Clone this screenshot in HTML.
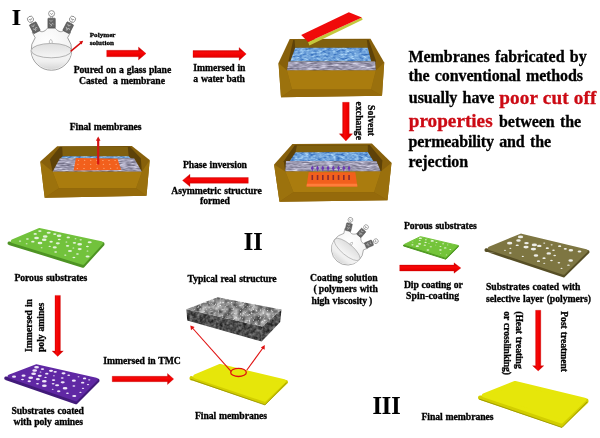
<!DOCTYPE html>
<html><head><meta charset="utf-8"><style>
html,body{margin:0;padding:0;background:#fff;}
svg{display:block;}
text{font-family:"Liberation Serif", serif;font-weight:bold;stroke-width:0.3px;paint-order:stroke;}
svg{will-change:transform;}
</style></head><body>
<svg width="600" height="438" viewBox="0 0 600 438">
<defs>
<radialGradient id="flaskg" cx="0.4" cy="0.35" r="0.7"><stop offset="0" stop-color="#ffffff"/><stop offset="1" stop-color="#f0f0f0"/></radialGradient>
<linearGradient id="liqg" x1="0" y1="0" x2="0" y2="1"><stop offset="0" stop-color="#f8f8f8"/><stop offset="0.7" stop-color="#f0f0f0"/><stop offset="1" stop-color="#d8d8d8"/></linearGradient>
<linearGradient id="surfg" x1="0" y1="0" x2="0" y2="1"><stop offset="0" stop-color="#dedede"/><stop offset="1" stop-color="#f6f6f6"/></linearGradient>
<linearGradient id="argh" x1="0" y1="0" x2="0" y2="1"><stop offset="0.2" stop-color="#d80000"/><stop offset="0.4" stop-color="#f80808"/><stop offset="0.6" stop-color="#f00000"/><stop offset="0.8" stop-color="#d80000"/></linearGradient>
<linearGradient id="argv" x1="0" y1="0" x2="1" y2="0"><stop offset="0.2" stop-color="#d80000"/><stop offset="0.4" stop-color="#f80808"/><stop offset="0.6" stop-color="#f00000"/><stop offset="0.8" stop-color="#d80000"/></linearGradient>
<filter id="water" x="0" y="0" width="1" height="1" color-interpolation-filters="sRGB">
<feTurbulence type="fractalNoise" baseFrequency="0.22 0.5" numOctaves="2" seed="4" result="n"/>
<feColorMatrix in="n" type="matrix" values="0.8 0 0 0 0.04  0.7 0 0 0 0.29  0.4 0 0 0 0.66  0 0 0 0 1" result="b"/>
<feColorMatrix in="n" type="matrix" values="0 0 0 0 0.7  0 0 0 0 0.85  0 0 0 0 0.98  6 0 0 0 -4.0" result="w"/>
<feComposite in="w" in2="b" operator="over" result="c"/>
<feComposite in="c" in2="SourceGraphic" operator="in"/>
</filter>
<filter id="stone" x="0" y="0" width="1" height="1" color-interpolation-filters="sRGB">
<feTurbulence type="fractalNoise" baseFrequency="0.15 0.6" numOctaves="2" seed="7" result="n"/>
<feColorMatrix in="n" type="matrix" values="0.7 0 0 0 0.27  0.7 0 0 0 0.26  0.7 0 0 0 0.35  0 0 0 0 1" result="c"/>
<feColorMatrix in="n" type="matrix" values="0 0 0 0 0.85  0 0 0 0 0.85  0 0 0 0 0.9  5 0 0 0 -3.3" result="w"/>
<feComposite in="w" in2="c" operator="over" result="c2"/>
<feComposite in="c2" in2="SourceGraphic" operator="in"/>
</filter>
<filter id="sem" x="0" y="0" width="1" height="1" color-interpolation-filters="sRGB">
<feTurbulence type="fractalNoise" baseFrequency="0.18" numOctaves="2" seed="2" result="n"/>
<feColorMatrix in="n" type="matrix" values="0.9 0 0 0 0.08  0.9 0 0 0 0.08  0.9 0 0 0 0.08  0 0 0 0 1" result="c"/>
<feTurbulence type="fractalNoise" baseFrequency="0.55" numOctaves="2" seed="9" result="n2"/>
<feColorMatrix in="n2" type="matrix" values="0 0 0 0 0.92  0 0 0 0 0.92  0 0 0 0 0.92  4 0 0 0 -2.3" result="sp"/>
<feComposite in="sp" in2="c" operator="over" result="c2"/>
<feComposite in="c2" in2="SourceGraphic" operator="in"/>
</filter>
<filter id="semd" x="0" y="0" width="1" height="1" color-interpolation-filters="sRGB">
<feTurbulence type="fractalNoise" baseFrequency="0.3" numOctaves="2" seed="5" result="n"/>
<feColorMatrix in="n" type="matrix" values="0.6 0 0 0 0.0  0.6 0 0 0 0.0  0.6 0 0 0 0.0  0 0 0 0 1" result="c"/>
<feComposite in="c" in2="SourceGraphic" operator="in"/>
</filter>
</defs>
<rect width="600" height="438" fill="#fff"/>

<text x="11.8" y="24.8" font-size="23.8" fill="#000" stroke="#000" style="stroke-width:0.15px">I</text>
<g transform="translate(51.4,49.9) rotate(0) scale(1.0)">
<path d="M-16.2,-12.2 L-19.2,-17.6 L-13.4,-20.6 C-11,-17 -7,-17.5 -3.6,-22 L3.6,-22 C7,-17.5 11,-17 13.4,-20.6 L19.2,-17.6 L16.2,-12.2 A20.3,20.3 0 1,1 -16.2,-12.2 Z" fill="url(#flaskg)" stroke="#7a7a7a" stroke-width="0.7"/>
<path d="M-20.2,0.7 A20.3,20.3 0 0,0 20.2,0.7 A20.2,7.2 0 0,0 -20.2,0.7 Z" fill="url(#liqg)" stroke="none"/>
<ellipse cx="0" cy="0.7" rx="20.2" ry="7.2" fill="url(#surfg)" stroke="#888" stroke-width="0.6"/>
<path d="M-0.6,-10.5 C-2.8,-8.5 -2.3,-6.5 -0.6,-6.5 C1.1,-6.5 1.6,-8.5 -0.6,-10.5Z" fill="#fff" stroke="#777" stroke-width="0.5"/>
<g transform="translate(-16.6,-22.2) rotate(-27)">
<rect x="-3.7" y="-4.9" width="7.4" height="9.8" rx="0.6" fill="#666" stroke="#3a3a3a" stroke-width="0.5"/>
<path d="M-2.2,-3.2 l1.6,1.6 l1.6,-1.6 M-2.2,0.2 l1.6,1.6 l1.6,-1.6 l1.2,1.2 M-1,3.2 l1.6,-1.4" fill="none" stroke="#c4c4c4" stroke-width="0.7"/>
<circle cx="0" cy="-9.5" r="3.0" fill="#fff" stroke="#555" stroke-width="0.6"/>
<path d="M-1.3,-10 l1.3,1.5 l1.3,-1.5" fill="none" stroke="#555" stroke-width="0.55"/>
<path d="M-0.9,-6.6 v1.8 M0.9,-6.6 v1.8" stroke="#666" stroke-width="0.5"/>
</g>
<g transform="translate(0.2,-26.8) rotate(0)">
<rect x="-3.7" y="-4.9" width="7.4" height="9.8" rx="0.6" fill="#666" stroke="#3a3a3a" stroke-width="0.5"/>
<path d="M-2.2,-3.2 l1.6,1.6 l1.6,-1.6 M-2.2,0.2 l1.6,1.6 l1.6,-1.6 l1.2,1.2 M-1,3.2 l1.6,-1.4" fill="none" stroke="#c4c4c4" stroke-width="0.7"/>
<circle cx="0" cy="-9.5" r="3.0" fill="#fff" stroke="#555" stroke-width="0.6"/>
<path d="M-1.3,-10 l1.3,1.5 l1.3,-1.5" fill="none" stroke="#555" stroke-width="0.55"/>
<path d="M-0.9,-6.6 v1.8 M0.9,-6.6 v1.8" stroke="#666" stroke-width="0.5"/>
</g>
<g transform="translate(16.8,-22.2) rotate(27)">
<rect x="-3.7" y="-4.9" width="7.4" height="9.8" rx="0.6" fill="#666" stroke="#3a3a3a" stroke-width="0.5"/>
<path d="M-2.2,-3.2 l1.6,1.6 l1.6,-1.6 M-2.2,0.2 l1.6,1.6 l1.6,-1.6 l1.2,1.2 M-1,3.2 l1.6,-1.4" fill="none" stroke="#c4c4c4" stroke-width="0.7"/>
<circle cx="0" cy="-9.5" r="3.0" fill="#fff" stroke="#555" stroke-width="0.6"/>
<path d="M-1.3,-10 l1.3,1.5 l1.3,-1.5" fill="none" stroke="#555" stroke-width="0.55"/>
<path d="M-0.9,-6.6 v1.8 M0.9,-6.6 v1.8" stroke="#666" stroke-width="0.5"/>
</g>
</g>
<line x1="70.6" y1="51.3" x2="81.2" y2="42.6" stroke="#d40c0c" stroke-width="1.5"/>
<polygon points="83.2,40.8 79.2,41.5 81.6,44.6" fill="#d40c0c"/>
<text x="89.7" y="36.8" font-size="7.1" fill="#000" stroke="#000" textLength="25.8" lengthAdjust="spacing" >Polymer</text>
<text x="89.7" y="45.4" font-size="7.1" fill="#000" stroke="#000" textLength="24.2" lengthAdjust="spacing" >solution</text>
<polygon points="106.70,50.30 138.50,50.30 138.50,47.10 146.00,53.50 138.50,59.90 138.50,56.70 106.70,56.70" fill="url(#argh)" stroke="#d00000" stroke-width="0.3"/>
<text x="73.8" y="73.1" font-size="9.7" fill="#000" stroke="#000" textLength="97.4" lengthAdjust="spacing"  word-spacing="0.6">Poured on a glass plane</text>
<text x="79.1" y="83.6" font-size="9.7" fill="#000" stroke="#000" textLength="85.9" lengthAdjust="spacing"  word-spacing="0.6">Casted  a membrane</text>
<polygon points="193.00,50.50 239.10,50.50 239.10,47.60 246.20,54.00 239.10,60.40 239.10,57.50 193.00,57.50" fill="url(#argh)" stroke="#d00000" stroke-width="0.3"/>
<text x="193.3" y="70.8" font-size="9.7" fill="#000" stroke="#000" textLength="52.2" lengthAdjust="spacing"  word-spacing="0.6">Immersed in</text>
<text x="193.3" y="81.7" font-size="9.7" fill="#000" stroke="#000" textLength="51.7" lengthAdjust="spacing"  word-spacing="0.6">a water bath</text>
<polygon points="289.70,39.10 370.50,38.70 384.20,62.40 382.00,95.80 281.00,97.30 278.50,63.00" fill="#87600b"/>
<polygon points="293.20,39.90 368.70,39.70 376.00,60.80 375.80,70.50 287.00,70.50 288.20,62.20" fill="#5e4208"/>
<polygon points="294.60,40.00 366.90,40.00 367.80,47.80 295.20,47.80" fill="#80600e"/>
<polygon points="295.20,47.80 367.80,47.80 371.30,61.50 290.20,61.50" fill="#4a90cf" filter="url(#water)"/>
<polygon points="288.40,61.50 375.20,61.50 375.80,70.50 287.00,70.50" fill="#9896a6" filter="url(#stone)"/>
<polygon points="278.50,63.00 287.00,70.50 292.00,89.50 281.00,97.30" fill="#9c720d"/>
<polygon points="384.20,62.40 375.80,70.50 371.00,89.50 382.00,95.80" fill="#9a700d"/>
<polygon points="287.00,70.50 375.80,70.50 371.00,89.50 292.00,89.50" fill="#aa7c0e"/>
<polygon points="292.00,89.50 371.00,89.50 382.00,95.80 281.00,97.30" fill="#956a0b"/>
<polygon points="308.10,41.90 361.90,17.50 362.60,19.80 309.40,45.60" fill="#c4c83c"/>
<polygon points="301.20,35.00 348.80,12.20 361.90,17.50 308.10,41.90" fill="#f00a0a"/>
<text x="408.5" y="62" font-size="16.0" fill="#000" stroke="#000" textLength="178.2" lengthAdjust="spacing"  word-spacing="1.5">Membranes fabricated by</text>
<text x="408.5" y="80.8" font-size="16.0" fill="#000" stroke="#000" textLength="174.5" lengthAdjust="spacing"  word-spacing="1.5">the conventional methods</text>
<text x="408.8" y="103.3" font-size="16.0" fill="#000" stroke="#000" textLength="85.6" lengthAdjust="spacing"  word-spacing="1.5">usually have</text>
<text x="499.2" y="103.6" font-size="19.2" fill="#cc0a14" stroke="#cc0a14" textLength="97.1" lengthAdjust="spacing" >poor cut off</text>
<text x="408.8" y="127.0" font-size="19.2" fill="#cc0a14" stroke="#cc0a14" textLength="83.8" lengthAdjust="spacing" >properties</text>
<text x="499" y="127.3" font-size="16.0" fill="#000" stroke="#000" textLength="82.2" lengthAdjust="spacing"  word-spacing="1.5">between the</text>
<text x="408.5" y="147.3" font-size="16.0" fill="#000" stroke="#000" textLength="142.5" lengthAdjust="spacing"  word-spacing="1.5">permeability and the</text>
<text x="408.5" y="166.7" font-size="16.0" fill="#000" stroke="#000" textLength="59.7" lengthAdjust="spacing"  word-spacing="1.5">rejection</text>
<polygon points="342.60,102.30 342.60,133.80 339.30,133.80 345.90,141.00 352.50,133.80 349.20,133.80 349.20,102.30" fill="url(#argv)" stroke="#d00000" stroke-width="0.3"/>
<g transform="translate(368,120.6) rotate(90)">
<text x="0" y="0" font-size="9.7" fill="#000" stroke="#000" textLength="31" lengthAdjust="spacing" text-anchor="middle" word-spacing="0.6">Solvent</text>
</g>
<g transform="translate(356.3,120.8) rotate(90)">
<text x="0" y="0" font-size="9.7" fill="#000" stroke="#000" textLength="38.4" lengthAdjust="spacing" text-anchor="middle" word-spacing="0.6">exchange</text>
</g>
<polygon points="292.40,143.90 371.90,143.50 391.50,162.70 387.50,200.20 279.50,201.80 274.10,164.50" fill="#87600b"/>
<polygon points="294.70,145.30 369.80,145.00 382.40,160.60 381.60,171.50 285.30,171.50 283.70,161.30" fill="#5e4208"/>
<polygon points="296.90,145.40 367.80,145.20 367.80,151.90 295.60,152.30" fill="#80600e"/>
<polygon points="295.60,152.30 367.80,151.90 373.30,161.00 289.60,161.20" fill="#4a90cf" filter="url(#water)"/>
<polygon points="286.00,161.10 376.50,160.90 380.80,171.50 285.30,171.50" fill="#9896a6" filter="url(#stone)"/>
<polygon points="274.10,164.50 285.30,171.50 293.50,192.20 279.50,201.80" fill="#9c720d"/>
<polygon points="391.50,162.70 380.80,171.50 374.00,192.20 387.50,200.20" fill="#9a700d"/>
<polygon points="285.30,171.50 380.80,171.50 374.00,192.20 293.50,192.20" fill="#aa7c0e"/>
<polygon points="293.50,192.20 374.00,192.20 387.50,200.20 279.50,201.80" fill="#956a0b"/>
<polygon points="308.70,172.30 355.30,172.30 357.40,186.40 306.50,186.40" fill="#f2601c"/>
<polygon points="306.90,183.80 357.00,183.80 357.40,186.40 306.50,186.40" fill="#ff7d3a"/>
<rect x="311.50" y="175" width="1.6" height="5" fill="#8a2a30"/>
<path d="M312.30,165.6 l1.5,2.6 l-1.5,2.4 l-1.5,-2.4 z M311.85,169 h0.9 v2.3 h-0.9 z" fill="#6a36b4"/>
<rect x="316.75" y="175" width="1.6" height="5" fill="#8a2a30"/>
<path d="M317.55,165.6 l1.5,2.6 l-1.5,2.4 l-1.5,-2.4 z M317.10,169 h0.9 v2.3 h-0.9 z" fill="#6a36b4"/>
<rect x="322.00" y="175" width="1.6" height="5" fill="#8a2a30"/>
<path d="M322.80,165.6 l1.5,2.6 l-1.5,2.4 l-1.5,-2.4 z M322.35,169 h0.9 v2.3 h-0.9 z" fill="#6a36b4"/>
<rect x="327.25" y="175" width="1.6" height="5" fill="#8a2a30"/>
<path d="M328.05,165.6 l1.5,2.6 l-1.5,2.4 l-1.5,-2.4 z M327.60,169 h0.9 v2.3 h-0.9 z" fill="#6a36b4"/>
<rect x="332.50" y="175" width="1.6" height="5" fill="#8a2a30"/>
<path d="M333.30,165.6 l1.5,2.6 l-1.5,2.4 l-1.5,-2.4 z M332.85,169 h0.9 v2.3 h-0.9 z" fill="#6a36b4"/>
<rect x="337.75" y="175" width="1.6" height="5" fill="#8a2a30"/>
<path d="M338.55,165.6 l1.5,2.6 l-1.5,2.4 l-1.5,-2.4 z M338.10,169 h0.9 v2.3 h-0.9 z" fill="#6a36b4"/>
<rect x="343.00" y="175" width="1.6" height="5" fill="#8a2a30"/>
<path d="M343.80,165.6 l1.5,2.6 l-1.5,2.4 l-1.5,-2.4 z M343.35,169 h0.9 v2.3 h-0.9 z" fill="#6a36b4"/>
<rect x="348.25" y="175" width="1.6" height="5" fill="#8a2a30"/>
<path d="M349.05,165.6 l1.5,2.6 l-1.5,2.4 l-1.5,-2.4 z M348.60,169 h0.9 v2.3 h-0.9 z" fill="#6a36b4"/>
<polygon points="57.20,146.20 131.90,145.90 149.70,160.10 146.50,195.80 44.70,197.70 40.30,161.50" fill="#87600b"/>
<polygon points="59.90,146.80 129.80,146.60 140.80,158.30 141.90,171.80 52.60,171.80 49.90,159.20" fill="#5e4208"/>
<polygon points="62.20,146.90 127.80,146.90 128.70,156.20 62.70,156.20" fill="#80600e"/>
<polygon points="62.70,156.20 128.70,156.20 131.00,158.40 60.50,158.40" fill="#4a90cf" filter="url(#water)"/>
<polygon points="59.90,158.30 134.20,158.30 141.90,171.80 52.60,171.80" fill="#9896a6" filter="url(#stone)"/>
<polygon points="40.30,161.50 52.60,171.80 59.00,188.30 44.70,197.70" fill="#9c720d"/>
<polygon points="149.70,160.10 141.90,171.80 136.00,188.30 146.50,195.80" fill="#9a700d"/>
<polygon points="52.60,171.80 141.90,171.80 136.00,188.30 59.00,188.30" fill="#aa7c0e"/>
<polygon points="59.00,188.30 136.00,188.30 146.50,195.80 44.70,197.70" fill="#956a0b"/>
<polygon points="75.90,158.00 117.50,158.70 121.20,169.90 73.60,170.60" fill="#f2601c"/>
<ellipse cx="78.56" cy="160.13" rx="0.7" ry="0.5" fill="#ffb080"/>
<ellipse cx="84.65" cy="160.20" rx="0.7" ry="0.5" fill="#ffb080"/>
<ellipse cx="90.73" cy="160.27" rx="0.7" ry="0.5" fill="#ffb080"/>
<ellipse cx="96.82" cy="160.33" rx="0.7" ry="0.5" fill="#ffb080"/>
<ellipse cx="102.90" cy="160.40" rx="0.7" ry="0.5" fill="#ffb080"/>
<ellipse cx="108.99" cy="160.47" rx="0.7" ry="0.5" fill="#ffb080"/>
<ellipse cx="115.07" cy="160.53" rx="0.7" ry="0.5" fill="#ffb080"/>
<ellipse cx="77.94" cy="164.30" rx="0.7" ry="0.5" fill="#ffb080"/>
<ellipse cx="84.31" cy="164.30" rx="0.7" ry="0.5" fill="#ffb080"/>
<ellipse cx="90.68" cy="164.30" rx="0.7" ry="0.5" fill="#ffb080"/>
<ellipse cx="97.05" cy="164.30" rx="0.7" ry="0.5" fill="#ffb080"/>
<ellipse cx="103.42" cy="164.30" rx="0.7" ry="0.5" fill="#ffb080"/>
<ellipse cx="109.79" cy="164.30" rx="0.7" ry="0.5" fill="#ffb080"/>
<ellipse cx="116.16" cy="164.30" rx="0.7" ry="0.5" fill="#ffb080"/>
<ellipse cx="77.31" cy="168.47" rx="0.7" ry="0.5" fill="#ffb080"/>
<ellipse cx="83.97" cy="168.40" rx="0.7" ry="0.5" fill="#ffb080"/>
<ellipse cx="90.63" cy="168.33" rx="0.7" ry="0.5" fill="#ffb080"/>
<ellipse cx="97.28" cy="168.27" rx="0.7" ry="0.5" fill="#ffb080"/>
<ellipse cx="103.94" cy="168.20" rx="0.7" ry="0.5" fill="#ffb080"/>
<ellipse cx="110.60" cy="168.13" rx="0.7" ry="0.5" fill="#ffb080"/>
<ellipse cx="117.25" cy="168.07" rx="0.7" ry="0.5" fill="#ffb080"/>
<line x1="98.2" y1="164.5" x2="98.2" y2="140" stroke="#d41414" stroke-width="2.2"/>
<polygon points="98.2,136.6 95.9,140.8 100.5,140.8" fill="#d41414"/>
<text x="69.7" y="130.2" font-size="9.7" fill="#000" stroke="#000" textLength="71.9" lengthAdjust="spacing"  word-spacing="0.6">Final membranes</text>
<polygon points="248.30,177.50 190.00,177.50 190.00,174.20 182.50,180.40 190.00,186.60 190.00,183.30 248.30,183.30" fill="url(#argh)" stroke="#d00000" stroke-width="0.3"/>
<text x="183" y="167.5" font-size="9.7" fill="#000" stroke="#000" textLength="64" lengthAdjust="spacing"  word-spacing="0.6">Phase inversion</text>
<text x="171.3" y="193.8" font-size="9.7" fill="#000" stroke="#000" textLength="90.4" lengthAdjust="spacing"  word-spacing="0.6">Asymmetric structure</text>
<text x="200" y="204.2" font-size="9.7" fill="#000" stroke="#000" textLength="30" lengthAdjust="spacing"  word-spacing="0.6">formed</text>
<polygon points="9.25,243.26 102.75,243.74 102.75,244.32 82.96,266.00 9.25,243.21" fill="#4e9424" stroke="#4e9424" stroke-width="3.5" stroke-linejoin="round"/>
<polygon points="39.18,229.83 101.15,243.07 82.96,263.00 12.56,241.23" fill="#72c23c" stroke="#72c23c" stroke-width="3.5" stroke-linejoin="round"/>
<ellipse cx="39.87" cy="231.12" rx="1.71" ry="0.9" fill="#e4f2dc"/>
<ellipse cx="48.68" cy="232.73" rx="2.05" ry="1.08" fill="#e4f2dc"/>
<ellipse cx="54.78" cy="234.11" rx="1.71" ry="0.9" fill="#e4f2dc"/>
<ellipse cx="59.08" cy="235.81" rx="2.39" ry="1.26" fill="#e4f2dc"/>
<ellipse cx="68.25" cy="237.42" rx="1.71" ry="0.9" fill="#e4f2dc"/>
<ellipse cx="75.53" cy="238.78" rx="0.94" ry="0.5" fill="#e4f2dc"/>
<ellipse cx="80.73" cy="239.81" rx="1.2" ry="0.63" fill="#e4f2dc"/>
<ellipse cx="89.68" cy="242.22" rx="2.05" ry="1.08" fill="#e4f2dc"/>
<ellipse cx="35.20" cy="233.91" rx="1.71" ry="0.9" fill="#e4f2dc"/>
<ellipse cx="45.18" cy="236.60" rx="2.39" ry="1.26" fill="#e4f2dc"/>
<ellipse cx="59.24" cy="239.56" rx="1.45" ry="0.77" fill="#e4f2dc"/>
<ellipse cx="66.42" cy="241.89" rx="0.94" ry="0.5" fill="#e4f2dc"/>
<ellipse cx="74.43" cy="242.85" rx="1.71" ry="0.9" fill="#e4f2dc"/>
<ellipse cx="79.67" cy="244.16" rx="2.39" ry="1.26" fill="#e4f2dc"/>
<ellipse cx="87.41" cy="246.41" rx="1.45" ry="0.77" fill="#e4f2dc"/>
<ellipse cx="36.53" cy="238.02" rx="2.39" ry="1.26" fill="#e4f2dc"/>
<ellipse cx="44.19" cy="239.69" rx="2.39" ry="1.26" fill="#e4f2dc"/>
<ellipse cx="51.11" cy="241.75" rx="1.71" ry="0.9" fill="#e4f2dc"/>
<ellipse cx="57.82" cy="243.37" rx="2.05" ry="1.08" fill="#e4f2dc"/>
<ellipse cx="67.56" cy="245.86" rx="1.71" ry="0.9" fill="#e4f2dc"/>
<ellipse cx="73.40" cy="247.88" rx="0.94" ry="0.5" fill="#e4f2dc"/>
<ellipse cx="79.70" cy="249.11" rx="2.05" ry="1.08" fill="#e4f2dc"/>
<ellipse cx="87.49" cy="250.90" rx="0.94" ry="0.5" fill="#e4f2dc"/>
<ellipse cx="27.42" cy="239.07" rx="1.45" ry="0.77" fill="#e4f2dc"/>
<ellipse cx="32.84" cy="241.69" rx="1.71" ry="0.9" fill="#e4f2dc"/>
<ellipse cx="40.01" cy="243.02" rx="2.39" ry="1.26" fill="#e4f2dc"/>
<ellipse cx="49.72" cy="246.28" rx="1.2" ry="0.63" fill="#e4f2dc"/>
<ellipse cx="54.75" cy="247.45" rx="2.05" ry="1.08" fill="#e4f2dc"/>
<ellipse cx="69.96" cy="251.03" rx="2.05" ry="1.08" fill="#e4f2dc"/>
<ellipse cx="77.44" cy="253.94" rx="1.45" ry="0.77" fill="#e4f2dc"/>
<ellipse cx="87.59" cy="256.49" rx="2.05" ry="1.08" fill="#e4f2dc"/>
<ellipse cx="20.03" cy="241.10" rx="1.2" ry="0.63" fill="#e4f2dc"/>
<ellipse cx="26.63" cy="243.69" rx="0.94" ry="0.5" fill="#e4f2dc"/>
<ellipse cx="41.61" cy="247.67" rx="0.94" ry="0.5" fill="#e4f2dc"/>
<ellipse cx="55.68" cy="252.08" rx="1.45" ry="0.77" fill="#e4f2dc"/>
<ellipse cx="65.25" cy="255.10" rx="1.2" ry="0.63" fill="#e4f2dc"/>
<ellipse cx="73.92" cy="257.52" rx="1.45" ry="0.77" fill="#e4f2dc"/>
<text x="14.4" y="281" font-size="9.7" fill="#000" stroke="#000" textLength="73" lengthAdjust="spacing"  word-spacing="0.6">Porous substrates</text>
<polygon points="55.00,295.40 55.00,351.00 52.10,351.00 57.70,356.40 63.30,351.00 60.40,351.00 60.40,295.40" fill="url(#argv)" stroke="#d00000" stroke-width="0.3"/>
<g transform="translate(31.8,325.5) rotate(-90)">
<text x="0" y="0" font-size="9.7" fill="#000" stroke="#000" textLength="53" lengthAdjust="spacing" text-anchor="middle" word-spacing="0.6">Immersed in</text>
</g>
<g transform="translate(44.1,327.3) rotate(-90)">
<text x="0" y="0" font-size="9.7" fill="#000" stroke="#000" textLength="49.4" lengthAdjust="spacing" text-anchor="middle" word-spacing="0.6">poly amines</text>
</g>
<polygon points="5.95,378.29 97.75,380.21 97.75,380.78 76.04,402.49 5.95,378.25" fill="#421a7a" stroke="#421a7a" stroke-width="3.5" stroke-linejoin="round"/>
<polygon points="36.13,366.02 96.02,379.51 76.04,399.49 9.29,376.41" fill="#6028a4" stroke="#6028a4" stroke-width="3.5" stroke-linejoin="round"/>
<ellipse cx="36.57" cy="367.27" rx="2.39" ry="1.26" fill="#f0e8f8"/>
<ellipse cx="42.45" cy="369.08" rx="1.71" ry="0.9" fill="#f0e8f8"/>
<ellipse cx="51.00" cy="370.84" rx="2.05" ry="1.08" fill="#f0e8f8"/>
<ellipse cx="55.17" cy="371.78" rx="1.71" ry="0.9" fill="#f0e8f8"/>
<ellipse cx="63.53" cy="373.33" rx="2.05" ry="1.08" fill="#f0e8f8"/>
<ellipse cx="68.71" cy="375.17" rx="1.45" ry="0.77" fill="#f0e8f8"/>
<ellipse cx="78.51" cy="376.79" rx="0.94" ry="0.5" fill="#f0e8f8"/>
<ellipse cx="84.57" cy="378.43" rx="1.71" ry="0.9" fill="#f0e8f8"/>
<ellipse cx="89.23" cy="379.84" rx="1.2" ry="0.63" fill="#f0e8f8"/>
<ellipse cx="34.66" cy="370.43" rx="2.39" ry="1.26" fill="#f0e8f8"/>
<ellipse cx="40.50" cy="371.93" rx="0.94" ry="0.5" fill="#f0e8f8"/>
<ellipse cx="46.77" cy="373.71" rx="1.71" ry="0.9" fill="#f0e8f8"/>
<ellipse cx="53.96" cy="375.68" rx="0.94" ry="0.5" fill="#f0e8f8"/>
<ellipse cx="62.23" cy="377.92" rx="1.45" ry="0.77" fill="#f0e8f8"/>
<ellipse cx="73.86" cy="380.63" rx="2.05" ry="1.08" fill="#f0e8f8"/>
<ellipse cx="82.68" cy="382.72" rx="1.71" ry="0.9" fill="#f0e8f8"/>
<ellipse cx="88.00" cy="384.61" rx="1.2" ry="0.63" fill="#f0e8f8"/>
<ellipse cx="33.62" cy="373.66" rx="2.39" ry="1.26" fill="#f0e8f8"/>
<ellipse cx="39.75" cy="375.80" rx="2.05" ry="1.08" fill="#f0e8f8"/>
<ellipse cx="45.52" cy="377.41" rx="1.2" ry="0.63" fill="#f0e8f8"/>
<ellipse cx="53.56" cy="380.03" rx="1.71" ry="0.9" fill="#f0e8f8"/>
<ellipse cx="62.70" cy="382.36" rx="2.05" ry="1.08" fill="#f0e8f8"/>
<ellipse cx="73.89" cy="386.01" rx="1.45" ry="0.77" fill="#f0e8f8"/>
<ellipse cx="83.01" cy="388.27" rx="1.2" ry="0.63" fill="#f0e8f8"/>
<ellipse cx="23.55" cy="375.67" rx="2.05" ry="1.08" fill="#f0e8f8"/>
<ellipse cx="30.72" cy="377.76" rx="2.39" ry="1.26" fill="#f0e8f8"/>
<ellipse cx="37.85" cy="379.17" rx="2.05" ry="1.08" fill="#f0e8f8"/>
<ellipse cx="44.31" cy="381.31" rx="2.39" ry="1.26" fill="#f0e8f8"/>
<ellipse cx="53.13" cy="383.78" rx="1.45" ry="0.77" fill="#f0e8f8"/>
<ellipse cx="57.12" cy="385.23" rx="2.05" ry="1.08" fill="#f0e8f8"/>
<ellipse cx="65.08" cy="388.32" rx="2.39" ry="1.26" fill="#f0e8f8"/>
<ellipse cx="80.45" cy="392.32" rx="1.2" ry="0.63" fill="#f0e8f8"/>
<ellipse cx="14.04" cy="376.70" rx="2.05" ry="1.08" fill="#f0e8f8"/>
<ellipse cx="22.46" cy="379.44" rx="1.45" ry="0.77" fill="#f0e8f8"/>
<ellipse cx="29.25" cy="381.25" rx="1.71" ry="0.9" fill="#f0e8f8"/>
<ellipse cx="37.50" cy="383.65" rx="1.45" ry="0.77" fill="#f0e8f8"/>
<ellipse cx="44.38" cy="385.66" rx="2.39" ry="1.26" fill="#f0e8f8"/>
<ellipse cx="52.69" cy="389.26" rx="0.94" ry="0.5" fill="#f0e8f8"/>
<ellipse cx="58.73" cy="391.24" rx="1.71" ry="0.9" fill="#f0e8f8"/>
<ellipse cx="67.44" cy="393.24" rx="1.45" ry="0.77" fill="#f0e8f8"/>
<ellipse cx="74.26" cy="396.00" rx="2.05" ry="1.08" fill="#f0e8f8"/>
<text x="11.4" y="413.8" font-size="9.7" fill="#000" stroke="#000" textLength="72.6" lengthAdjust="spacing"  word-spacing="0.6">Substrates coated</text>
<text x="13.6" y="425.3" font-size="9.7" fill="#000" stroke="#000" textLength="69.4" lengthAdjust="spacing"  word-spacing="0.6">with poly amines</text>
<text x="103.3" y="364.2" font-size="9.7" fill="#000" stroke="#000" textLength="77.5" lengthAdjust="spacing"  word-spacing="0.6">Immersed in TMC</text>
<polygon points="112.20,376.30 167.50,376.30 167.50,373.50 173.70,379.00 167.50,384.50 167.50,381.70 112.20,381.70" fill="url(#argh)" stroke="#d00000" stroke-width="0.3"/>
<text x="243.8" y="249.9" font-size="24.2" fill="#000" stroke="#000" style="stroke-width:0.15px">II</text>
<text x="187.6" y="282" font-size="9.7" fill="#000" stroke="#000" textLength="89" lengthAdjust="spacing"  word-spacing="0.6">Typical real structure</text>
<polygon points="186.40,309.30 262.20,326.40 261.70,341.60 187.20,320.50" fill="#4a4a4a" filter="url(#semd)"/>
<polygon points="262.20,326.40 281.50,309.50 280.20,322.00 261.70,341.60" fill="#3a3a3a" filter="url(#semd)"/>
<polygon points="217.60,297.30 281.50,309.50 262.20,326.40 186.40,309.30" fill="#808080" filter="url(#sem)"/>
<polygon points="191.50,378.57 286.00,381.93 286.00,382.15 264.49,402.72 191.50,378.06" fill="#d2ce00" stroke="#d2ce00" stroke-width="4" stroke-linejoin="round"/>
<polyline points="191.10,379.40 265.00,404.90 286.40,382.90" fill="none" stroke="#9a9600" stroke-width="0.9" stroke-linejoin="round" stroke-linecap="round"/>
<polygon points="220.17,365.90 283.96,381.09 264.49,399.72 195.17,376.30" fill="#e6e60a" stroke="#e6e60a" stroke-width="4" stroke-linejoin="round"/>
<ellipse cx="238.5" cy="372.4" rx="7.8" ry="4.1" fill="none" stroke="#e01010" stroke-width="1.3"/>
<line x1="231.3" y1="371.7" x2="192" y2="327.5" stroke="#e01010" stroke-width="1.1"/>
<polygon points="190.3,325.6 191.0,330.2 194.6,327.0" fill="#e01010"/>
<line x1="246.7" y1="370.3" x2="263.6" y2="347" stroke="#e01010" stroke-width="1.1"/>
<polygon points="264.8,344.9 260.8,347.4 264.6,349.8" fill="#e01010"/>
<text x="194.9" y="418.6" font-size="9.7" fill="#000" stroke="#000" textLength="72.1" lengthAdjust="spacing"  word-spacing="0.6">Final membranes</text>
<g transform="translate(347.5,249.0) rotate(40) scale(0.79)">
<path d="M-16.2,-12.2 L-19.2,-17.6 L-13.4,-20.6 C-11,-17 -7,-17.5 -3.6,-22 L3.6,-22 C7,-17.5 11,-17 13.4,-20.6 L19.2,-17.6 L16.2,-12.2 A20.3,20.3 0 1,1 -16.2,-12.2 Z" fill="url(#flaskg)" stroke="#7a7a7a" stroke-width="0.7"/>
<path d="M-20.2,0.7 A20.3,20.3 0 0,0 20.2,0.7 A20.2,7.2 0 0,0 -20.2,0.7 Z" fill="url(#liqg)" stroke="none"/>
<ellipse cx="0" cy="0.7" rx="20.2" ry="7.2" fill="url(#surfg)" stroke="#888" stroke-width="0.6"/>
<path d="M-0.6,-10.5 C-2.8,-8.5 -2.3,-6.5 -0.6,-6.5 C1.1,-6.5 1.6,-8.5 -0.6,-10.5Z" fill="#fff" stroke="#777" stroke-width="0.5"/>
<g transform="translate(-16.6,-22.2) rotate(-27)">
<rect x="-3.7" y="-4.9" width="7.4" height="9.8" rx="0.6" fill="#666" stroke="#3a3a3a" stroke-width="0.5"/>
<path d="M-2.2,-3.2 l1.6,1.6 l1.6,-1.6 M-2.2,0.2 l1.6,1.6 l1.6,-1.6 l1.2,1.2 M-1,3.2 l1.6,-1.4" fill="none" stroke="#c4c4c4" stroke-width="0.7"/>
<circle cx="0" cy="-9.5" r="3.0" fill="#fff" stroke="#555" stroke-width="0.6"/>
<path d="M-1.3,-10 l1.3,1.5 l1.3,-1.5" fill="none" stroke="#555" stroke-width="0.55"/>
<path d="M-0.9,-6.6 v1.8 M0.9,-6.6 v1.8" stroke="#666" stroke-width="0.5"/>
</g>
<g transform="translate(0.2,-26.8) rotate(0)">
<rect x="-3.7" y="-4.9" width="7.4" height="9.8" rx="0.6" fill="#666" stroke="#3a3a3a" stroke-width="0.5"/>
<path d="M-2.2,-3.2 l1.6,1.6 l1.6,-1.6 M-2.2,0.2 l1.6,1.6 l1.6,-1.6 l1.2,1.2 M-1,3.2 l1.6,-1.4" fill="none" stroke="#c4c4c4" stroke-width="0.7"/>
<circle cx="0" cy="-9.5" r="3.0" fill="#fff" stroke="#555" stroke-width="0.6"/>
<path d="M-1.3,-10 l1.3,1.5 l1.3,-1.5" fill="none" stroke="#555" stroke-width="0.55"/>
<path d="M-0.9,-6.6 v1.8 M0.9,-6.6 v1.8" stroke="#666" stroke-width="0.5"/>
</g>
<g transform="translate(16.8,-22.2) rotate(27)">
<rect x="-3.7" y="-4.9" width="7.4" height="9.8" rx="0.6" fill="#666" stroke="#3a3a3a" stroke-width="0.5"/>
<path d="M-2.2,-3.2 l1.6,1.6 l1.6,-1.6 M-2.2,0.2 l1.6,1.6 l1.6,-1.6 l1.2,1.2 M-1,3.2 l1.6,-1.4" fill="none" stroke="#c4c4c4" stroke-width="0.7"/>
<circle cx="0" cy="-9.5" r="3.0" fill="#fff" stroke="#555" stroke-width="0.6"/>
<path d="M-1.3,-10 l1.3,1.5 l1.3,-1.5" fill="none" stroke="#555" stroke-width="0.55"/>
<path d="M-0.9,-6.6 v1.8 M0.9,-6.6 v1.8" stroke="#666" stroke-width="0.5"/>
</g>
</g>
<text x="310" y="280.7" font-size="9.7" fill="#000" stroke="#000" textLength="67.6" lengthAdjust="spacing"  word-spacing="0.6">Coating solution</text>
<text x="313.5" y="292.3" font-size="9.7" fill="#000" stroke="#000"  word-spacing="0.6">(</text>
<text x="318.8" y="292.3" font-size="9.7" fill="#000" stroke="#000" textLength="59" lengthAdjust="spacing"  word-spacing="0.6">polymers with</text>
<text x="311.6" y="303.6" font-size="9.7" fill="#000" stroke="#000" textLength="55.5" lengthAdjust="spacing"  word-spacing="0.6">high viscosity</text>
<text x="369" y="303.6" font-size="9.7" fill="#000" stroke="#000"  word-spacing="0.6">)</text>
<text x="404" y="229" font-size="9.7" fill="#000" stroke="#000" textLength="72.8" lengthAdjust="spacing"  word-spacing="0.6">Porous substrates</text>
<polygon points="403.50,245.01 458.40,245.59 458.40,246.69 445.86,259.23 403.50,245.93" fill="#4f9a22" stroke="#4f9a22" stroke-width="1" stroke-linejoin="round"/>
<polygon points="420.36,236.63 457.91,245.38 445.86,257.43 404.35,244.40" fill="#74c43a" stroke="#74c43a" stroke-width="1" stroke-linejoin="round"/>
<ellipse cx="420.38" cy="238.28" rx="1.6" ry="0.84" fill="#e0f2d0"/>
<ellipse cx="425.85" cy="239.66" rx="0.97" ry="0.51" fill="#e0f2d0"/>
<ellipse cx="432.23" cy="240.94" rx="1.6" ry="0.84" fill="#e0f2d0"/>
<ellipse cx="436.47" cy="242.42" rx="0.97" ry="0.51" fill="#e0f2d0"/>
<ellipse cx="443.10" cy="243.66" rx="0.97" ry="0.51" fill="#e0f2d0"/>
<ellipse cx="447.68" cy="244.91" rx="0.8" ry="0.42" fill="#e0f2d0"/>
<ellipse cx="419.80" cy="240.59" rx="0.97" ry="0.51" fill="#e0f2d0"/>
<ellipse cx="425.60" cy="242.38" rx="1.14" ry="0.6" fill="#e0f2d0"/>
<ellipse cx="428.99" cy="243.45" rx="0.63" ry="0.33" fill="#e0f2d0"/>
<ellipse cx="435.64" cy="245.02" rx="0.63" ry="0.33" fill="#e0f2d0"/>
<ellipse cx="440.47" cy="246.53" rx="0.97" ry="0.51" fill="#e0f2d0"/>
<ellipse cx="445.19" cy="247.89" rx="1.37" ry="0.72" fill="#e0f2d0"/>
<ellipse cx="450.22" cy="249.40" rx="0.97" ry="0.51" fill="#e0f2d0"/>
<ellipse cx="412.72" cy="242.10" rx="0.63" ry="0.33" fill="#e0f2d0"/>
<ellipse cx="419.61" cy="243.84" rx="1.6" ry="0.84" fill="#e0f2d0"/>
<ellipse cx="424.77" cy="245.22" rx="1.14" ry="0.6" fill="#e0f2d0"/>
<ellipse cx="430.84" cy="246.77" rx="1.14" ry="0.6" fill="#e0f2d0"/>
<ellipse cx="440.41" cy="249.95" rx="1.37" ry="0.72" fill="#e0f2d0"/>
<ellipse cx="412.42" cy="244.79" rx="1.14" ry="0.6" fill="#e0f2d0"/>
<ellipse cx="417.31" cy="246.13" rx="1.6" ry="0.84" fill="#e0f2d0"/>
<ellipse cx="427.93" cy="249.92" rx="1.37" ry="0.72" fill="#e0f2d0"/>
<ellipse cx="440.68" cy="253.60" rx="0.63" ry="0.33" fill="#e0f2d0"/>
<ellipse cx="446.45" cy="254.92" rx="0.8" ry="0.42" fill="#e0f2d0"/>
<polygon points="399.70,265.00 454.00,265.00 454.00,262.80 460.90,268.00 454.00,273.20 454.00,271.00 399.70,271.00" fill="url(#argh)" stroke="#d00000" stroke-width="0.3"/>
<text x="404" y="287.8" font-size="9.7" fill="#000" stroke="#000" textLength="58.8" lengthAdjust="spacing"  word-spacing="0.6">Dip coating or</text>
<text x="406" y="298.5" font-size="9.7" fill="#000" stroke="#000" textLength="53" lengthAdjust="spacing"  word-spacing="0.6">Spin-coating</text>
<polygon points="486.25,250.28 587.75,251.73 587.75,251.96 563.54,275.70 486.25,249.94" fill="#574f26" stroke="#574f26" stroke-width="3.5" stroke-linejoin="round"/>
<polygon points="521.14,235.33 586.02,250.96 563.54,273.00 489.52,248.33" fill="#7e7642" stroke="#7e7642" stroke-width="3.5" stroke-linejoin="round"/>
<ellipse cx="520.51" cy="236.96" rx="2.66" ry="1.4" fill="#eeeee8"/>
<ellipse cx="544.21" cy="243.12" rx="1.04" ry="0.55" fill="#eeeee8"/>
<ellipse cx="551.64" cy="244.83" rx="1.04" ry="0.55" fill="#eeeee8"/>
<ellipse cx="559.64" cy="246.13" rx="1.61" ry="0.85" fill="#eeeee8"/>
<ellipse cx="565.31" cy="248.83" rx="1.61" ry="0.85" fill="#eeeee8"/>
<ellipse cx="570.84" cy="250.18" rx="2.28" ry="1.2" fill="#eeeee8"/>
<ellipse cx="579.50" cy="251.58" rx="1.9" ry="1.0" fill="#eeeee8"/>
<ellipse cx="518.48" cy="240.45" rx="2.28" ry="1.2" fill="#eeeee8"/>
<ellipse cx="526.51" cy="243.10" rx="2.28" ry="1.2" fill="#eeeee8"/>
<ellipse cx="534.37" cy="244.91" rx="2.66" ry="1.4" fill="#eeeee8"/>
<ellipse cx="539.26" cy="245.91" rx="2.28" ry="1.2" fill="#eeeee8"/>
<ellipse cx="547.29" cy="248.17" rx="1.61" ry="0.85" fill="#eeeee8"/>
<ellipse cx="553.51" cy="250.20" rx="1.33" ry="0.7" fill="#eeeee8"/>
<ellipse cx="509.68" cy="243.20" rx="2.66" ry="1.4" fill="#eeeee8"/>
<ellipse cx="517.24" cy="245.26" rx="1.61" ry="0.85" fill="#eeeee8"/>
<ellipse cx="526.03" cy="247.08" rx="2.66" ry="1.4" fill="#eeeee8"/>
<ellipse cx="533.44" cy="249.12" rx="2.66" ry="1.4" fill="#eeeee8"/>
<ellipse cx="548.76" cy="253.38" rx="2.28" ry="1.2" fill="#eeeee8"/>
<ellipse cx="554.67" cy="255.47" rx="1.33" ry="0.7" fill="#eeeee8"/>
<ellipse cx="570.69" cy="260.51" rx="2.28" ry="1.2" fill="#eeeee8"/>
<ellipse cx="510.33" cy="248.34" rx="1.04" ry="0.55" fill="#eeeee8"/>
<ellipse cx="535.95" cy="255.48" rx="2.28" ry="1.2" fill="#eeeee8"/>
<ellipse cx="544.06" cy="258.22" rx="1.61" ry="0.85" fill="#eeeee8"/>
<ellipse cx="551.47" cy="260.55" rx="1.33" ry="0.7" fill="#eeeee8"/>
<ellipse cx="558.91" cy="262.79" rx="1.33" ry="0.7" fill="#eeeee8"/>
<ellipse cx="568.44" cy="265.17" rx="1.33" ry="0.7" fill="#eeeee8"/>
<ellipse cx="504.97" cy="250.27" rx="1.04" ry="0.55" fill="#eeeee8"/>
<ellipse cx="510.30" cy="252.94" rx="1.33" ry="0.7" fill="#eeeee8"/>
<ellipse cx="522.81" cy="256.40" rx="1.04" ry="0.55" fill="#eeeee8"/>
<ellipse cx="538.47" cy="261.15" rx="1.61" ry="0.85" fill="#eeeee8"/>
<ellipse cx="544.24" cy="263.19" rx="1.04" ry="0.55" fill="#eeeee8"/>
<ellipse cx="561.53" cy="268.36" rx="1.04" ry="0.55" fill="#eeeee8"/>
<text x="486" y="290.4" font-size="9.7" fill="#000" stroke="#000" textLength="94.4" lengthAdjust="spacing"  word-spacing="0.6">Substrates coated with</text>
<text x="486" y="302.2" font-size="9.7" fill="#000" stroke="#000" textLength="105" lengthAdjust="spacing"  word-spacing="0.6">selective layer (polymers)</text>
<polygon points="535.60,310.30 535.60,365.70 532.60,365.70 538.20,370.90 543.80,365.70 540.80,365.70 540.80,310.30" fill="url(#argv)" stroke="#d00000" stroke-width="0.3"/>
<g transform="translate(560.5,341.6) rotate(90)">
<text x="0" y="0" font-size="9.7" fill="#000" stroke="#000" textLength="60.7" lengthAdjust="spacing" text-anchor="middle" word-spacing="0.6">Post treatment</text>
</g>
<g transform="translate(515.5,340) rotate(90)">
<text x="0" y="0" font-size="9.7" fill="#000" stroke="#000" textLength="57.5" lengthAdjust="spacing" text-anchor="middle" word-spacing="0.6">(Heat treating</text>
</g>
<g transform="translate(504.3,343.2) rotate(90)">
<text x="0" y="0" font-size="9.7" fill="#000" stroke="#000" textLength="63.7" lengthAdjust="spacing" text-anchor="middle" word-spacing="0.6">or crosslinking)</text>
</g>
<polygon points="480.00,397.56 586.50,400.45 586.50,401.44 561.49,425.32 480.00,397.86" fill="#d2ce00" stroke="#d2ce00" stroke-width="4" stroke-linejoin="round"/>
<polyline points="479.60,399.20 562.00,427.50 586.90,402.20" fill="none" stroke="#9a9600" stroke-width="0.9" stroke-linejoin="round" stroke-linecap="round"/>
<polygon points="515.15,382.89 584.47,399.59 561.49,421.52 483.81,395.35" fill="#e6e60a" stroke="#e6e60a" stroke-width="4" stroke-linejoin="round"/>
<text x="372.4" y="413.8" font-size="24.2" fill="#000" stroke="#000" style="stroke-width:0.15px">III</text>
<text x="421.4" y="420" font-size="9.7" fill="#000" stroke="#000" textLength="72.1" lengthAdjust="spacing"  word-spacing="0.6">Final membranes</text>
</svg></body></html>
